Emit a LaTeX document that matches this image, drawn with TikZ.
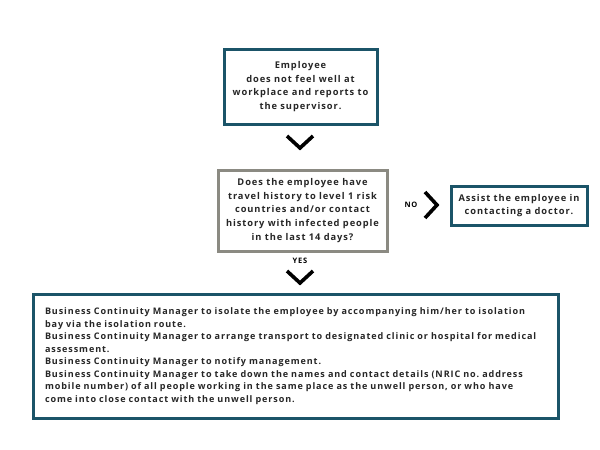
\documentclass[tikz,border=0pt]{standalone}
\usepackage{fontspec}
\usetikzlibrary{calc}
\setmainfont{Open Sans}[LetterSpace=10]
\frenchspacing
\definecolor{teal}{HTML}{1B5468}
\definecolor{graybox}{HTML}{8B8A82}
\begin{document}
\begin{tikzpicture}[x=1pt,y=-1pt,
  box/.style={draw=teal,line width=3pt,inner sep=0pt,font=\fontsize{9.3}{13.8}\selectfont\bfseries,align=center,text=black!85},
  chev/.style={line width=3.6pt,line cap=butt,line join=miter},
  lbl/.style={font=\fontsize{7.5}{8}\selectfont\bfseries,inner sep=0pt}]
\useasboundingbox (0,0) rectangle (600,450);
\node[box,minimum width=153pt,minimum height=75pt] (b1) at (300.5,86.5)
  {Employee\\does not feel well at\\workplace and reports to\\the supervisor.};
\node[box,draw=graybox,minimum width=169pt,minimum height=81pt] (b2) at (302.5,210.5)
  {Does the employee have\\travel history to level 1 risk\\countries and/or contact\\history with infected people\\in the last 14 days?};
\node[box,minimum width=136pt,minimum height=39pt] (b3) at (519,205.5)
  {Assist the employee in\\contacting a doctor.};
\node[box,align=left,font=\fontsize{9.05}{12.5}\selectfont\bfseries,text width=501pt,inner xsep=12pt,minimum height=124pt] (b4) at (295.5,356)
  {Business Continuity Manager to isolate the employee by accompanying him/her to isolation\\
bay via the isolation route.\\
Business Continuity Manager to arrange transport to designated clinic or hospital for medical\\
assessment.\\
Business Continuity Manager to notify management.\\
Business Continuity Manager to take down the names and contact details (NRIC no. address\\
mobile number) of all people working in the same place as the unwell person, or who have\\
come into close contact with the unwell person.};
\coordinate (c1) at (300,148);
\draw[chev] ($(c1)+(-13,-12)$) -- (c1) -- ($(c1)+(13,-12)$);
\node[lbl] (no) at (411,205) {NO};
\coordinate (c2) at (437,205);
\draw[chev] ($(c2)+(-12,-13)$) -- (c2) -- ($(c2)+(-12,13)$);
\node[lbl] (yes) at (300,261) {YES};
\coordinate (c3) at (300,283);
\draw[chev] ($(c3)+(-13,-12)$) -- (c3) -- ($(c3)+(13,-12)$);
\end{tikzpicture}
\end{document}
